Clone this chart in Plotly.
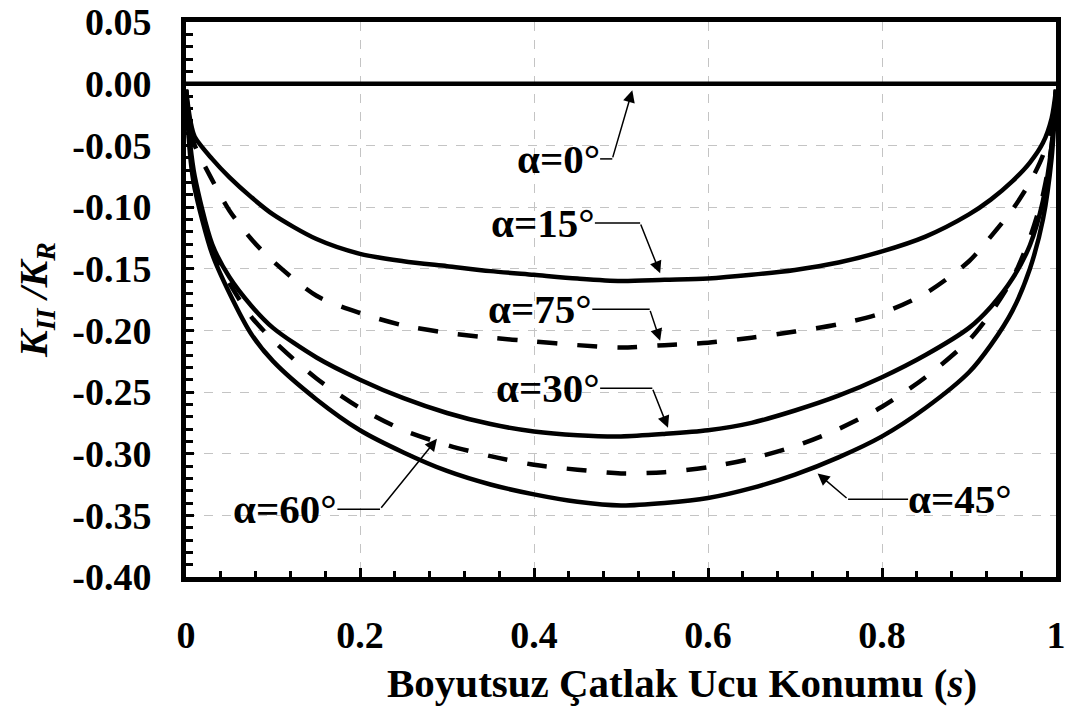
import plotly.graph_objects as go

# Dimensionless crack-tip position s
s = [0, 0.005, 0.01, 0.03, 0.05, 0.075, 0.1, 0.15, 0.2, 0.25, 0.3, 0.35, 0.4,
     0.45, 0.5, 0.55, 0.6, 0.65, 0.7, 0.75, 0.8, 0.85, 0.9, 0.925, 0.95,
     0.97, 0.985, 0.995, 1.0]

# Normalised mode-II stress intensity factor K_II/K_R for each angle
k_a0 = [0.0] * len(s)
k_a15 = [-0.005, -0.030, -0.043, -0.061, -0.076, -0.092, -0.106, -0.126, -0.138,
         -0.144, -0.148, -0.152, -0.155, -0.158, -0.160, -0.159, -0.158, -0.155,
         -0.151, -0.145, -0.136, -0.124, -0.106, -0.094, -0.079, -0.064, -0.048,
         -0.028, -0.005]
k_a75 = [-0.005, -0.038, -0.050, -0.078, -0.103, -0.126, -0.144, -0.172, -0.186,
         -0.196, -0.202, -0.206, -0.209, -0.212, -0.214, -0.212, -0.210, -0.206,
         -0.201, -0.195, -0.186, -0.170, -0.144, -0.124, -0.102, -0.080, -0.058,
         -0.032, -0.005]
k_a30 = [-0.005, -0.050, -0.075, -0.130, -0.157, -0.180, -0.198, -0.222, -0.240,
         -0.255, -0.267, -0.276, -0.282, -0.285, -0.286, -0.284, -0.281, -0.275,
         -0.265, -0.253, -0.238, -0.220, -0.198, -0.181, -0.158, -0.131, -0.095,
         -0.050, -0.005]
k_a60 = [-0.005, -0.055, -0.080, -0.135, -0.162, -0.189, -0.208, -0.239, -0.263,
         -0.281, -0.293, -0.302, -0.309, -0.313, -0.316, -0.315, -0.311, -0.304,
         -0.294, -0.280, -0.262, -0.238, -0.208, -0.186, -0.158, -0.125, -0.090,
         -0.050, -0.005]
k_a45 = [-0.005, -0.060, -0.085, -0.138, -0.170, -0.203, -0.225, -0.256, -0.281,
         -0.299, -0.314, -0.325, -0.333, -0.339, -0.342, -0.340, -0.336, -0.328,
         -0.317, -0.303, -0.286, -0.263, -0.234, -0.212, -0.184, -0.150, -0.110,
         -0.060, -0.005]

x_tickvals = [0, 0.2, 0.4, 0.6, 0.8, 1.0]
x_ticktext = ["0", "0.2", "0.4", "0.6", "0.8", "1"]
y_tickvals = [0.05, 0.0, -0.05, -0.10, -0.15, -0.20, -0.25, -0.30, -0.35, -0.40]
y_ticktext = ["0.05", "0.00", "-0.05", "-0.10", "-0.15", "-0.20", "-0.25",
              "-0.30", "-0.35", "-0.40"]

FONT = "'Liberation Serif', 'Times New Roman', Times, serif"
LW = 4.5
DASH = "20px,20px"

series = [
    (k_a0, "solid"),
    (k_a15, "solid"),
    (k_a75, DASH),
    (k_a30, "solid"),
    (k_a60, DASH),
    (k_a45, "solid"),
]

fig = go.Figure()
for ys, dash in series:
    fig.add_trace(go.Scatter(
        x=s, y=ys, mode="lines",
        line=dict(color="black", width=LW, dash=dash, shape="spline", smoothing=0.8),
        showlegend=False, hoverinfo="skip",
    ))

# Curve labels: (text, label anchor x, y, xanchor, elbow x, arrow tip x, tip y)
labels = [
    ("α=0°", 0.476, -0.061, "right", 0.490, 0.513, -0.0054),
    ("α=15°", 0.470, -0.113, "right", 0.522, 0.545, -0.1537),
    ("α=75°", 0.467, -0.183, "right", 0.533, 0.545, -0.2084),
    ("α=30°", 0.476, -0.247, "right", 0.536, 0.554, -0.279),
    ("α=60°", 0.174, -0.345, "right", 0.223, 0.2885, -0.288),
    ("α=45°", 0.830, -0.337, "left", 0.761, 0.726, -0.316),
]

annotations = []
shapes = []
for text, lx, ly, anchor, ex, tx, ty in labels:
    annotations.append(dict(
        x=lx, y=ly, xref="x", yref="y", text="<b>" + text + "</b>", showarrow=False,
        xanchor=anchor, yanchor="middle", xshift=(2 if anchor == "right" else -2),
        font=dict(family=FONT, size=41, color="black"),
    ))
    shapes.append(dict(
        type="line", xref="x", yref="y", x0=lx, y0=ly, x1=ex, y1=ly,
        line=dict(color="black", width=1.5),
    ))
    annotations.append(dict(
        x=tx, y=ty, xref="x", yref="y", ax=ex, ay=ly, axref="x", ayref="y",
        text="", showarrow=True, arrowhead=2, arrowsize=1.6, arrowwidth=1.5,
        arrowcolor="black",
    ))

# Horizontal-axis title, set slightly right of the plot centre
annotations.append(dict(
    x=0.570, y=-0.191, xref="paper", yref="paper",
    text="<b>Boyutsuz Çatlak Ucu Konumu (<i>s</i>)</b>", showarrow=False,
    xanchor="center", yanchor="middle",
    font=dict(family=FONT, size=41, color="black"),
))

axis_common = dict(
    showline=True, linewidth=5, linecolor="black", mirror=True,
    ticks="inside", tickwidth=3, tickcolor="black",
    showgrid=True, gridcolor="#c4c4c4", gridwidth=1, griddash="dash",
    zeroline=False, automargin=False,
    tickfont=dict(family=FONT, size=38, color="black"),
)

fig.update_xaxes(
    range=[0, 1], tickvals=x_tickvals,
    ticktext=["<b>" + t + "</b>" for t in x_ticktext], ticklen=9,
    ticklabelstandoff=20,
    minor=dict(dtick=0.04, tick0=0, ticks="inside", ticklen=6, tickwidth=3,
               tickcolor="black", showgrid=False),
    **axis_common,
)
fig.update_yaxes(
    range=[-0.40, 0.05], tickvals=y_tickvals,
    ticktext=["<b>" + t + "</b>" for t in y_ticktext], ticklen=8,
    ticklabelstandoff=22,
    minor=dict(dtick=0.01, tick0=0, ticks="inside", ticklen=7, tickwidth=3,
               tickcolor="black", showgrid=False),
    title=dict(text="<b><i>K<sub>II</sub> /K<sub>R</sub></i></b>",
               font=dict(family=FONT, size=40, color="black"),
               standoff=14),
    **axis_common,
)

fig.update_layout(
    width=1073, height=711,
    margin=dict(l=186, r=17, t=22, b=134),
    paper_bgcolor="white", plot_bgcolor="white",
    annotations=annotations, shapes=shapes,
)

fig.write_html("out.html")
